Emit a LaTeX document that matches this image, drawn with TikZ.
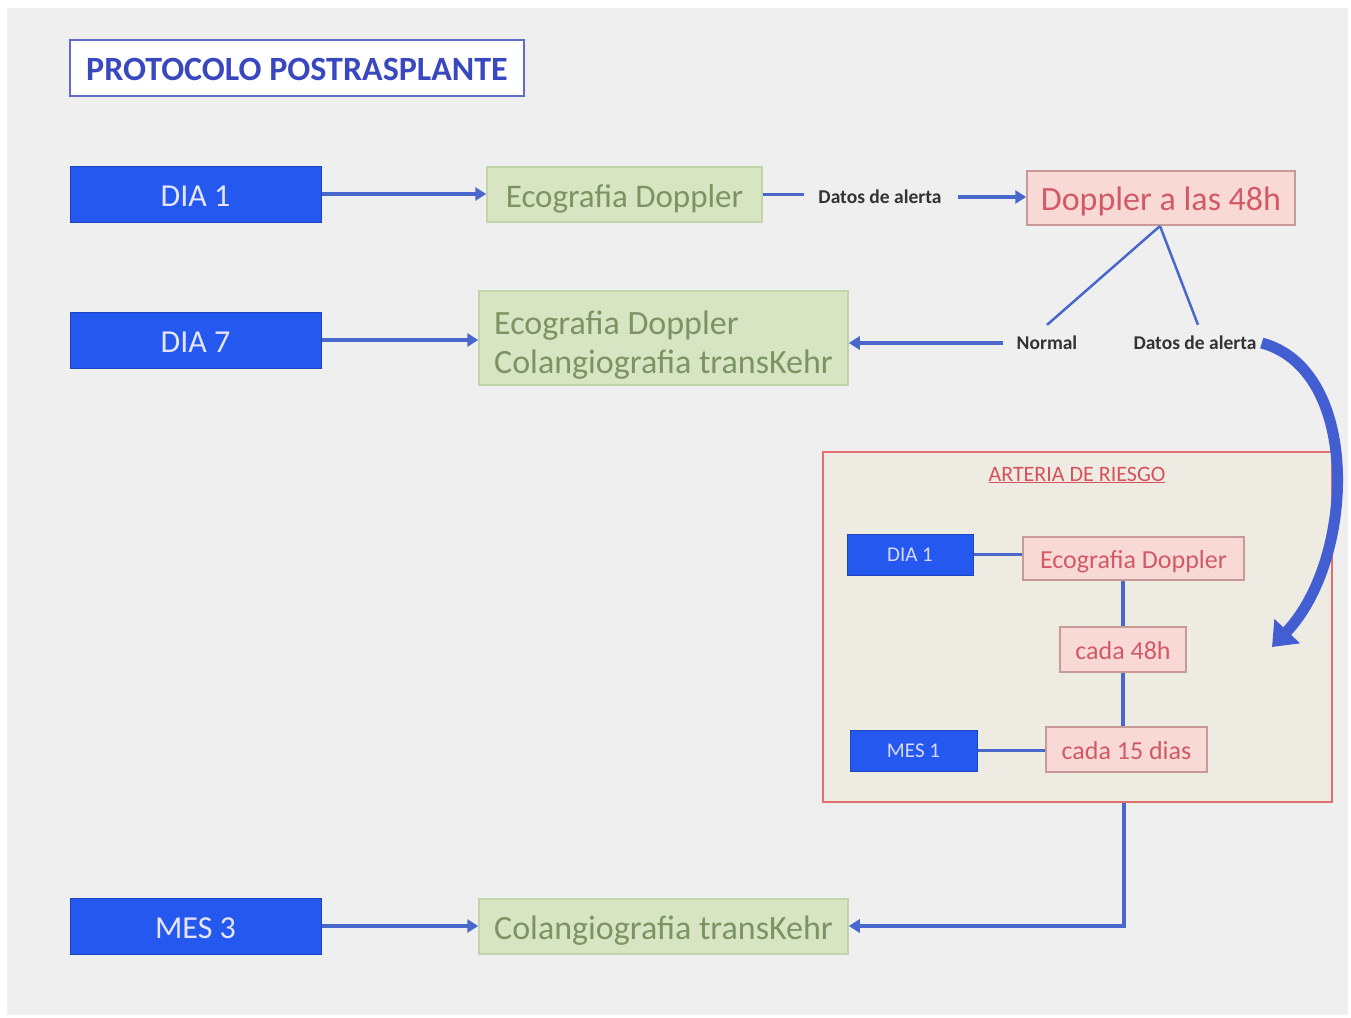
\documentclass[tikz,border=0pt]{standalone}
\usepackage{fontspec}
\setmainfont{Carlito}
\usetikzlibrary{arrows.meta}
\definecolor{bg}{HTML}{EFEFEF}
\definecolor{dblue}{HTML}{2458EE}
\definecolor{lblue}{HTML}{4A68CC}
\definecolor{tblue}{HTML}{3A48C0}
\definecolor{gfill}{HTML}{D7E5C2}
\definecolor{gdraw}{HTML}{C3D4AB}
\definecolor{gtext}{HTML}{7C9462}
\definecolor{pfill}{HTML}{F8D9D6}
\definecolor{pdraw}{HTML}{C79A98}
\definecolor{ptext}{HTML}{D25A66}
\definecolor{rfill}{HTML}{EEEBE2}
\definecolor{rdraw}{HTML}{E07070}
\definecolor{btext}{HTML}{333333}
\tikzset{
  bluebox/.style={fill=dblue, draw=dblue!80!black, line width=1pt, text=white!90!blue, font=\fontsize{32}{34}\selectfont, inner sep=0pt, text height=28pt, text depth=4pt},
  sbluebox/.style={fill=dblue, draw=dblue!80!black, line width=1pt, text=white!85!blue, font=\fontsize{21}{23}\selectfont, inner sep=0pt},
  greenbox/.style={fill=gfill, draw=gdraw, line width=1.5pt, text=gtext, font=\fontsize{33}{39}\selectfont, inner sep=0pt},
  pinkbox/.style={fill=pfill, draw=pdraw, line width=1.5pt, text=ptext, font=\fontsize{34}{36}\selectfont, inner sep=0pt},
  spinkbox/.style={fill=pfill, draw=pdraw, line width=1.5pt, text=ptext, font=\fontsize{26}{28}\selectfont, inner sep=0pt},
  lab/.style={text=btext, font=\bfseries\fontsize{19.5}{21}\selectfont, inner sep=0pt},
  conn/.style={draw=lblue, line width=3.5pt},
  arr/.style={conn, -{Triangle[length=11pt,width=13pt]}},
}
\begin{document}
\begin{tikzpicture}[x=1pt,y=-1pt]
\useasboundingbox (0,0) rectangle (1351,1017);
\fill[white] (0,0) rectangle (1351,1017);
\fill[bg] (7,8) rectangle (1348,1015);

% title
\node[draw=tblue!80, fill=white, line width=2pt, minimum width=454pt, minimum height=56pt, text=tblue, font=\bfseries\fontsize{34}{36}\selectfont, text height=28pt, text depth=4pt] (title) at (297,68) {PROTOCOLO POSTRASPLANTE};

% left column
\node[bluebox, minimum width=251pt, minimum height=56pt] (d1) at (195.5,194) {DIA 1};
\node[bluebox, minimum width=251pt, minimum height=56pt] (d7) at (195.5,340) {DIA 7};
\node[bluebox, minimum width=251pt, minimum height=56pt] (m3) at (195.5,926) {MES 3};

% green boxes
\node[greenbox, minimum width=275pt, minimum height=55pt, text height=30pt, text depth=5pt] (e1) at (624.5,194.5) {Ecografia Doppler};
\node[greenbox, font=\fontsize{34}{39}\selectfont, minimum width=369pt, minimum height=94pt, align=left] (e7) at (663.5,338) {\rule{0pt}{37pt}Ecografia Doppler\\Colangiografia transKehr};
\node[greenbox, font=\fontsize{34}{39}\selectfont, minimum width=369pt, minimum height=55pt, text height=30pt, text depth=5pt] (c3) at (663.5,926.5) {Colangiografia transKehr};

% doppler 48h
\node[pinkbox, minimum width=268pt, minimum height=54pt, text height=30pt, text depth=5pt] (d48) at (1161,198) {Doppler a las 48h};

% labels
\node[lab] (al1) at (880,197) {Datos de alerta};
\node[lab] (nor) at (1047,343) {Normal};
\node[lab] (al2) at (1195,343) {Datos de alerta};

% arteria de riesgo frame
\node[fill=rfill, draw=rdraw, line width=1.5pt, minimum width=509pt, minimum height=350pt, inner sep=0pt] (riesgo) at (1077.5,627) {};
\node[text=ptext!90!red, font=\fontsize{22}{24}\selectfont, inner sep=1pt] (rtitle) at (1077,475) {\underline{ARTERIA DE RIESGO}};

\node[sbluebox, minimum width=126pt, minimum height=41pt] (id1) at (910,554.5) {DIA 1};
\node[sbluebox, minimum width=127pt, minimum height=41pt] (im1) at (913.5,750.5) {MES 1};
\node[spinkbox, minimum width=221pt, minimum height=43pt, text height=22pt, text depth=3pt] (ie) at (1133.5,558.5) {Ecografia Doppler};
\node[spinkbox, minimum width=126pt, minimum height=45pt, text height=22pt, text depth=3pt] (c48) at (1123,649.5) {cada 48h};
\node[spinkbox, minimum width=161pt, minimum height=45pt, text height=22pt, text depth=3pt] (c15) at (1126.5,749.5) {cada 15 dias};

% connectors
\draw[arr] (d1.east) -- (e1.west |- d1.east);
\draw[arr] (d7.east) -- (e7.west |- d7.east);
\draw[arr] (m3.east) -- (c3.west |- m3.east);
\draw[conn] (e1.east) -- ([xshift=-14pt]al1.west |- e1.east);
\draw[arr] ([xshift=16pt]al1.east) -- (d48.west |- al1.east);
\coordinate (apex) at (1160,226);
\draw[conn, line width=2.5pt] (apex) -- ([yshift=11pt]nor.north);
\draw[conn, line width=2.5pt] (apex) -- ([xshift=3pt,yshift=11pt]al2.north);
\draw[arr] ([xshift=-14pt]nor.west) -- (e7.east |- nor.west);

\draw[conn] (id1.east) -- (ie.west |- id1.east);
\draw[conn] (ie.south -| c48.north) -- (c48.north);
\draw[conn] (c48.south) -- (c48.south |- c15.north);
\draw[conn] (im1.east) -- (c15.west |- im1.east);
\coordinate (turn) at (1124,926);
\draw[arr] (riesgo.south -| turn) -- (turn) -- (c3.east |- turn);

% curved arrow
\coordinate (cend) at (1272,647);
\draw[draw=lblue!90!blue, line width=11pt, -{Triangle[length=22pt,width=34pt]}]
  ([xshift=5pt]al2.east) .. controls (1362,370) and (1355,560) .. (cend);
\end{tikzpicture}
\end{document}
